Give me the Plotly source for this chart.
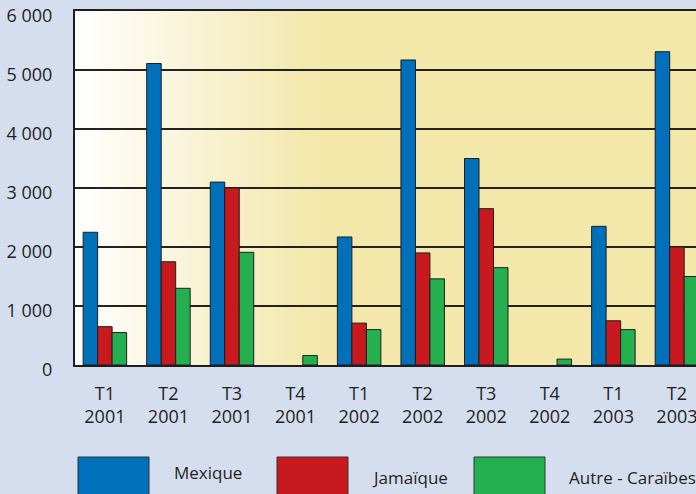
import plotly.graph_objects as go

categories = ["T1<br>2001", "T2<br>2001", "T3<br>2001", "T4<br>2001", "T1<br>2002",
              "T2<br>2002", "T3<br>2002", "T4<br>2002", "T1<br>2003", "T2<br>2003"]
mexique = [2250, 5110, 3100, None, 2170, 5170, 3500, None, 2350, 5310]
jamaique = [650, 1750, 3000, None, 710, 1900, 2650, None, 750, 2000]
autre = [550, 1300, 1910, 160, 600, 1460, 1650, 100, 600, 1500]
series_names = ["Mexique", "Jamaïque", "Autre - Caraïbes"]
series_colors = ["#0070BA", "#C8191E", "#25B050"]
y_ticks = [0, 1000, 2000, 3000, 4000, 5000, 6000]

FONT = "Open Sans, Noto Sans, sans-serif"
TXT = "#231F20"
W, H = 696, 494
L, R, T, B = 75, 0, 11, 129
pw, ph = W - L - R, H - T - B

fig = go.Figure()
for name, vals, col in zip(series_names, [mexique, jamaique, autre], series_colors):
    fig.add_trace(go.Bar(
        x=list(range(len(categories))), y=vals, name=name,
        marker=dict(color=col, line=dict(color="#1E1E1E", width=1)),
        showlegend=False, hoverinfo="skip"))

shapes = []
# gradient background (white -> pale yellow)
n = 40
g_end = (320 - L) / pw
c0 = (255, 255, 255)
c1 = (243, 231, 170)
for i in range(n):
    t = (i + 0.5) / n
    c = tuple(round(c0[k] + (c1[k] - c0[k]) * t) for k in range(3))
    shapes.append(dict(type="rect", xref="paper", yref="paper",
                       x0=g_end * i / n, x1=g_end * (i + 1) / n + 0.002, y0=0, y1=1,
                       fillcolor="rgb(%d,%d,%d)" % c, line=dict(width=0), layer="below"))

# legend boxes + labels
box_x = [78, 277, 474]
text_x = [172, 370, 567]
text_y = [472, 477, 477]
annotations = []
for name, col, bx, tx, ty in zip(series_names, series_colors, box_x, text_x, text_y):
    shapes.append(dict(type="rect", xref="paper", yref="paper",
                       x0=(bx - L) / pw, x1=(bx + 71 - L) / pw,
                       y0=(T + ph - 500) / ph, y1=(T + ph - 457) / ph,
                       fillcolor=col, line=dict(color="#333333", width=1)))
    annotations.append(dict(text=name, xref="paper", yref="paper",
                            x=(tx - L) / pw, y=(T + ph - ty) / ph,
                            xanchor="left", yanchor="middle", showarrow=False,
                            font=dict(family=FONT, size=17, color=TXT)))

fig.update_layout(
    width=W, height=H,
    margin=dict(l=L, r=R, t=T, b=B, pad=0, autoexpand=False),
    paper_bgcolor="#D5DEEF",
    plot_bgcolor="rgb(243,231,170)",
    barmode="group", bargap=0.316, bargroupgap=0,
    separators=", ",
    shapes=shapes, annotations=annotations,
    font=dict(family=FONT, size=18, color=TXT),
    xaxis=dict(tickmode="array", tickvals=list(range(len(categories))), ticktext=categories,
               range=[-0.47, 9.30], showgrid=False, zeroline=False,
               showline=True, linecolor="#1E1E1E", linewidth=2, mirror=True,
               ticks="", ticklabelstandoff=11, fixedrange=True,
               automargin=False, ticklabeloverflow="allow"),
    yaxis=dict(range=[0, 6000], tickvals=y_ticks, tickformat=",d",
               showgrid=True, gridcolor="#222222", gridwidth=2, zeroline=False,
               showline=True, linecolor="#1E1E1E", linewidth=2,
               ticks="", ticklabelstandoff=17, ticklabelshift=5, fixedrange=True,
               automargin=False, ticklabeloverflow="allow"),
)

fig.write_html("out.html", config={"displayModeBar": False},
               post_script="document.body.style.margin='0';document.body.style.padding='0';"
                           "document.body.style.overflow='hidden';"
                           "document.documentElement.style.overflow='hidden';")
